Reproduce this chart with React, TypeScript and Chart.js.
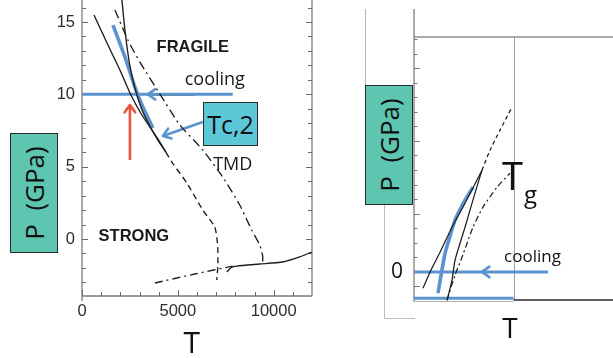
import React, { useEffect, useRef } from "react";
import { Chart, registerables } from "chart.js";
Chart.register(...registerables);

// ---------------- Left panel (T, P in GPa) ----------------
const leftXTicks = [0, 5000, 10000];
const leftYTicks = [0, 5, 10, 15];
const leftXMinor = [1000, 2000, 3000, 4000, 6000, 7000, 8000, 9000, 11000];
const leftYMinor = [-3, -2, -1, 1, 2, 3, 4, 6, 7, 8, 9, 11, 12, 13, 14, 16];

const curveA_T = [625, 1354, 1979, 2552, 3125, 3646, 4063, 4375];
const curveA_P = [15.48, 13.41, 11.68, 9.95, 8.57, 7.53, 6.7, 6.01];
const curveB_T = [2083, 2240, 2448, 2656, 2865, 3177, 3542, 3958, 4375];
const curveB_P = [16.52, 14.44, 12.37, 10.99, 9.95, 8.78, 7.81, 6.84, 6.01];
const dashedL_T = [4375, 4688, 5469, 6302, 6927, 7083, 7083, 7031];
const dashedL_P = [6.01, 5.32, 3.87, 2.0, 0.83, -0.55, -1.94, -2.83];
const tmd_T = [1719, 2396, 3021, 4063, 5104, 6302, 7344, 8229, 8854, 9271, 9427, 9427];
const tmd_P = [15.83, 13.75, 12.23, 10.02, 7.88, 6.15, 4.28, 2.35, 0.62, -0.41, -1.17, -1.59];
const lowDashDot_T = [3802, 5885, 7865];
const lowDashDot_P = [-3.04, -2.42, -1.87];
const lowSolid_T = [7552, 7813, 8073, 9271, 10469, 11354, 11979];
const lowSolid_P = [-2.28, -1.94, -1.87, -1.73, -1.59, -1.24, -0.9];
const blueL_T = [1615, 2240, 2760, 3177, 3698];
const blueL_P = [14.79, 12.58, 10.5, 9.12, 7.67];
const coolL_T = [0, 7865];
const coolL_P = [10, 10];
const coolShadow_T = [3438, 5885];
const coolShadow_P = [9.93, 9.93];
const redArrow_T = [2500, 2500];
const redArrow_P = [5.46, 9.26];
const tcArrow_T = [6302, 4219];
const tcArrow_P = [8.09, 7.12];

const leftNotes = ["FRAGILE", "cooling", "TMD", "STRONG", "T"];
const leftNoteT = [5781, 6927, 7865, 2708, 5729];
const leftNoteP = [12.92, 10.64, 4.77, -0.14, -7.88];

// ---------------- Right panel ----------------
const rightYTicks = [0];
const rightYMajorMarks = [-1, 4, 9, 14];
const rightYMinorMarks = [0, 1, 2, 3, 5, 6, 7, 8, 10, 11, 12, 13, 15, 16];
const rightInnerEdgeT = 5000;

const solidR1_T = [452, 804, 1307, 1910, 2563, 3417];
const solidR1_P = [-1.12, -0.02, 1.35, 3.07, 4.72, 6.99];
const solidR2_T = [1658, 1910, 2060, 2563, 3065, 3417];
const solidR2_P = [-1.95, -0.57, 0.8, 3.07, 5.41, 6.99];
const blueR_T = [1206, 1558, 2060, 2563, 2965];
const blueR_P = [-1.46, 1.28, 3.55, 4.93, 5.82];
const dashedR_T = [3417, 3819, 4322, 4925];
const dashedR_P = [6.99, 8.36, 9.74, 11.32];
const dashDotR_T = [1658, 2060, 2412, 2965, 3467, 4171, 4824];
const dashDotR_P = [-1.95, -0.23, 1.01, 3.07, 4.45, 5.82, 6.78];
const coolR_T = [0, 6734];
const coolR_P = [0, 0];
const baseR_T = [0, 5000];
const baseR_P = [-1.81, -1.81];

const rightNotes = ["cooling", "T", "g", "T"];
const rightNoteT = [5955, 4950, 5854, 4824];
const rightNoteP = [0.68, 5.63, 4.74, -4.54];

// ---------------- helpers ----------------
const BLUE = "#5b93cf";
const RED = "#e8533d";
const INK = "#1e1e1e";

const xy = (T: number[], P: number[]) => T.map((t, i) => ({ x: t, y: P[i] }));

function ds(data: any, color: string, width: number, dash: number[] = [], tension = 0.2) {
  return {
    data,
    borderColor: color,
    backgroundColor: color,
    borderWidth: width,
    borderDash: dash,
    showLine: true,
    pointRadius: 0,
    pointHoverRadius: 0,
    tension,
    fill: false,
  };
}

function head(ctx: CanvasRenderingContext2D, tx: number, ty: number, fx: number, fy: number, color: string) {
  const ang = Math.atan2(ty - fy, tx - fx);
  const len = 9, spread = 0.62;
  ctx.save();
  ctx.strokeStyle = color;
  ctx.lineWidth = 2.6;
  ctx.lineCap = "round";
  ctx.lineJoin = "round";
  ctx.beginPath();
  ctx.moveTo(tx - len * Math.cos(ang - spread), ty - len * Math.sin(ang - spread));
  ctx.lineTo(tx, ty);
  ctx.lineTo(tx - len * Math.cos(ang + spread), ty - len * Math.sin(ang + spread));
  ctx.stroke();
  ctx.restore();
}

const leftNoteFonts = [
  'bold 16.5px "Liberation Sans"',
  '18px "Open Sans"',
  '18px "Open Sans"',
  'bold 16.5px "Liberation Sans"',
  '30px "Open Sans"',
];
const rightNoteFonts = ['17px "Open Sans"', '38px "Open Sans"', '24px "Open Sans"', '28px "Open Sans"'];

const leftDecor = {
  id: "leftDecor",
  beforeDatasetsDraw(chart: any) {
    const { ctx, chartArea: a, scales } = chart;
    const x = scales.x, y = scales.y;
    ctx.save();
    ctx.strokeStyle = "#7d7d7d";
    ctx.lineWidth = 1.3;
    ctx.beginPath();
    ctx.moveTo(a.left, a.top);
    ctx.lineTo(a.left, a.bottom + 5);
    ctx.moveTo(a.left, a.bottom);
    ctx.lineTo(a.right, a.bottom);
    ctx.moveTo(a.right, a.top);
    ctx.lineTo(a.right, a.bottom);
    ctx.stroke();
    ctx.lineWidth = 1;
    ctx.strokeStyle = "#6a6a6a";
    ctx.beginPath();
    const mark = (px: number, py: number, dx: number, dy: number) => {
      ctx.moveTo(px, py);
      ctx.lineTo(px + dx, py + dy);
    };
    leftYTicks.forEach((v) => { const p = Math.round(y.getPixelForValue(v)) + 0.5; mark(a.left, p, 6, 0); mark(a.right, p, -6, 0); });
    leftYMinor.forEach((v) => { const p = Math.round(y.getPixelForValue(v)) + 0.5; mark(a.left, p, 4, 0); mark(a.right, p, -4, 0); });
    leftXTicks.forEach((v) => { const p = Math.round(x.getPixelForValue(v)) + 0.5; mark(p, a.bottom, 0, -6); });
    leftXMinor.forEach((v) => { const p = Math.round(x.getPixelForValue(v)) + 0.5; mark(p, a.bottom, 0, -4); });
    ctx.stroke();
    ctx.restore();
  },
  afterDatasetsDraw(chart: any) {
    const { ctx, scales } = chart;
    const x = scales.x, y = scales.y;
    const px = (t: number) => x.getPixelForValue(t);
    const py = (p: number) => y.getPixelForValue(p);
    head(ctx, px(3438), py(10), px(5000), py(10), BLUE);
    head(ctx, px(redArrow_T[1]), py(redArrow_P[1]), px(redArrow_T[0]), py(redArrow_P[0]), RED);
    head(ctx, px(tcArrow_T[1]), py(tcArrow_P[1]), px(tcArrow_T[0]), py(tcArrow_P[0]), BLUE);
    ctx.save();
    ctx.textAlign = "center";
    ctx.textBaseline = "alphabetic";
    leftNotes.forEach((s, i) => {
      ctx.font = leftNoteFonts[i];
      ctx.fillStyle = i === 4 ? "#111" : "#1a1a1a";
      ctx.fillText(s, px(leftNoteT[i]), py(leftNoteP[i]));
    });
    ctx.restore();
  },
};

const rightDecor = {
  id: "rightDecor",
  beforeDatasetsDraw(chart: any) {
    const { ctx, chartArea: a, scales } = chart;
    const x = scales.x, y = scales.y;
    const inner = x.getPixelForValue(rightInnerEdgeT);
    ctx.save();
    ctx.strokeStyle = "#8c8c8c";
    ctx.lineWidth = 1.5;
    ctx.beginPath();
    ctx.moveTo(a.left, a.top);
    ctx.lineTo(a.right, a.top);
    ctx.stroke();
    ctx.strokeStyle = "#7d7d7d";
    ctx.lineWidth = 1.3;
    ctx.beginPath();
    ctx.moveTo(a.left, 9);
    ctx.lineTo(a.left, a.bottom + 1);
    ctx.stroke();
    ctx.strokeStyle = "#a0a0a0";
    ctx.lineWidth = 1;
    ctx.beginPath();
    ctx.moveTo(Math.round(inner) + 0.5, a.top);
    ctx.lineTo(Math.round(inner) + 0.5, a.bottom);
    ctx.stroke();
    ctx.strokeStyle = "#b0b0b0";
    ctx.beginPath();
    ctx.moveTo(a.left, a.bottom + 0.5);
    ctx.lineTo(inner, a.bottom + 0.5);
    ctx.stroke();
    ctx.strokeStyle = "#5e5e5e";
    ctx.lineWidth = 2;
    ctx.beginPath();
    ctx.moveTo(inner, a.bottom - 1);
    ctx.lineTo(a.right, a.bottom - 1);
    ctx.stroke();
    ctx.strokeStyle = "#7a7a7a";
    ctx.lineWidth = 1;
    ctx.beginPath();
    rightYMajorMarks.forEach((v) => { const p = Math.round(y.getPixelForValue(v)) + 0.5; ctx.moveTo(a.left, p); ctx.lineTo(a.left + 6, p); });
    rightYMinorMarks.forEach((v) => { const p = Math.round(y.getPixelForValue(v)) + 0.5; ctx.moveTo(a.left, p); ctx.lineTo(a.left + 3.5, p); });
    ctx.stroke();
    ctx.restore();
  },
  afterDatasetsDraw(chart: any) {
    const { ctx, scales } = chart;
    const x = scales.x, y = scales.y;
    const px = (t: number) => x.getPixelForValue(t);
    const py = (p: number) => y.getPixelForValue(p);
    head(ctx, px(3417), py(0), px(5000), py(0), BLUE);
    ctx.save();
    ctx.textAlign = "center";
    ctx.textBaseline = "alphabetic";
    ctx.fillStyle = "#111";
    rightNotes.forEach((s, i) => {
      ctx.font = rightNoteFonts[i];
      ctx.fillText(s, px(rightNoteT[i]), py(rightNoteP[i]));
    });
    ctx.restore();
  },
};

function useChart(ref: React.RefObject<HTMLCanvasElement>, make: (c: HTMLCanvasElement) => Chart) {
  useEffect(() => {
    if (!ref.current) return;
    const ch = make(ref.current);
    return () => ch.destroy();
  }, []);
}

const tickFont = { family: '"Liberation Sans", Arial, sans-serif', size: 16.5 };
const plain = (v: any) => String(v);

export default function App() {
  const leftRef = useRef<HTMLCanvasElement>(null);
  const rightRef = useRef<HTMLCanvasElement>(null);

  useChart(leftRef, (c) =>
    new Chart(c, {
      type: "scatter",
      data: {
        datasets: [
          ds(xy(curveA_T, curveA_P), INK, 1.35),
          ds(xy(curveB_T, curveB_P), INK, 1.35),
          ds(xy(dashedL_T, dashedL_P), INK, 1.35, [6, 4]),
          ds(xy(tmd_T, tmd_P), INK, 1.35, [9, 4, 2, 4]),
          ds(xy(lowDashDot_T, lowDashDot_P), INK, 1.35, [8, 4, 2, 4]),
          ds(xy(lowSolid_T, lowSolid_P), INK, 1.35),
          ds(xy(coolL_T, coolL_P), BLUE, 3),
          ds(xy(coolShadow_T, coolShadow_P), "rgba(70,70,70,0.75)", 1.5),
          ds(xy(blueL_T, blueL_P), BLUE, 3.6),
          ds(xy(redArrow_T, redArrow_P), RED, 2.6),
          ds(xy(tcArrow_T, tcArrow_P), BLUE, 2.6),
        ] as any,
      },
      options: {
        responsive: false,
        maintainAspectRatio: false,
        animation: false,
        events: [],
        layout: { padding: { left: 0, right: 301, top: 0, bottom: 0 } },
        plugins: { legend: { display: false }, tooltip: { enabled: false } },
        scales: {
          x: {
            type: "linear",
            min: 0,
            max: 12000,
            grid: { display: false, drawTicks: false },
            border: { display: false },
            ticks: { font: tickFont, color: "#2e2e2e", padding: 6, maxRotation: 0, autoSkip: false, callback: plain },
            afterBuildTicks: (s: any) => { s.ticks = leftXTicks.map((v) => ({ value: v })); },
            afterFit: (s: any) => { s.height = 62; s.paddingLeft = 0; s.paddingRight = 0; },
          },
          y: {
            type: "linear",
            min: -3.94,
            max: 16.52,
            grid: { display: false, drawTicks: false },
            border: { display: false },
            ticks: { font: tickFont, color: "#2e2e2e", padding: 7, callback: plain },
            afterBuildTicks: (s: any) => { s.ticks = leftYTicks.map((v) => ({ value: v })); },
            afterFit: (s: any) => { s.width = 82; s.paddingTop = 0; s.paddingBottom = 0; },
          },
        },
      } as any,
      plugins: [leftDecor],
    })
  );

  useChart(rightRef, (c) =>
    new Chart(c, {
      type: "scatter",
      data: {
        datasets: [
          ds(xy(solidR1_T, solidR1_P), INK, 1.25),
          ds(xy(solidR2_T, solidR2_P), INK, 1.25),
          ds(xy(dashedR_T, dashedR_P), INK, 1.25, [4, 3]),
          ds(xy(dashDotR_T, dashDotR_P), INK, 1.25, [6, 3, 2, 3]),
          ds(xy(blueR_T, blueR_P), BLUE, 3.6, [], 0.1),
          ds(xy(coolR_T, coolR_P), BLUE, 3),
          ds(xy(baseR_T, baseR_P), BLUE, 3),
        ] as any,
      },
      options: {
        responsive: false,
        maintainAspectRatio: false,
        animation: false,
        events: [],
        layout: { padding: { left: 0, right: 0, top: 37, bottom: 57 } },
        plugins: { legend: { display: false }, tooltip: { enabled: false } },
        scales: {
          x: { type: "linear", min: 0, max: 10000, display: false },
          y: {
            type: "linear",
            min: -2,
            max: 16.14,
            grid: { display: false, drawTicks: false },
            border: { display: false },
            ticks: { font: { family: '"Open Sans", sans-serif', size: 21 }, color: "#111", padding: 11, callback: plain },
            afterBuildTicks: (s: any) => { s.ticks = rightYTicks.map((v) => ({ value: v })); },
            afterFit: (s: any) => { s.width = 414; s.paddingTop = 0; s.paddingBottom = 0; },
          },
        },
      } as any,
      plugins: [rightDecor],
    })
  );

  const boxText: React.CSSProperties = {
    transform: "rotate(-90deg)",
    whiteSpace: "pre",
    font: '26px "Open Sans", sans-serif',
    color: "#111",
    lineHeight: "1",
  };
  const pBox = (left: number, top: number): React.CSSProperties => ({
    position: "absolute",
    left,
    top,
    width: 48,
    height: 120,
    boxSizing: "border-box",
    background: "#5ec5b1",
    border: "1.5px solid #2b2b2b",
    display: "flex",
    alignItems: "center",
    justifyContent: "center",
  });

  return (
    <div style={{ position: "fixed", left: 0, top: 0, width: 613, height: 358, background: "#fff", overflow: "hidden" }}>
      <canvas ref={leftRef} width={613} height={358} style={{ position: "absolute", left: 0, top: 0 }} />
      <canvas ref={rightRef} width={613} height={358} style={{ position: "absolute", left: 0, top: 0 }} />
      <div style={{ position: "absolute", left: 365, top: 9, width: 0, height: 76, borderLeft: "1px solid #b5b5b5" }} />
      <div style={{ position: "absolute", left: 384, top: 205, width: 30, height: 113, borderLeft: "1px solid #bdbdbd", borderBottom: "1px solid #bdbdbd" }} />
      <div style={pBox(10, 133)}>
        <span style={boxText}>{"P  (GPa)"}</span>
      </div>
      <div style={pBox(365, 85)}>
        <span style={boxText}>{"P  (GPa)"}</span>
      </div>
      <div
        style={{
          position: "absolute",
          left: 203,
          top: 102,
          width: 55,
          height: 44,
          boxSizing: "border-box",
          background: "#5cc7d6",
          border: "1.5px solid #2b2b2b",
          display: "flex",
          alignItems: "center",
          justifyContent: "center",
          font: '25px "Open Sans", sans-serif',
          color: "#111",
        }}
      >
        Tc,2
      </div>
    </div>
  );
}
